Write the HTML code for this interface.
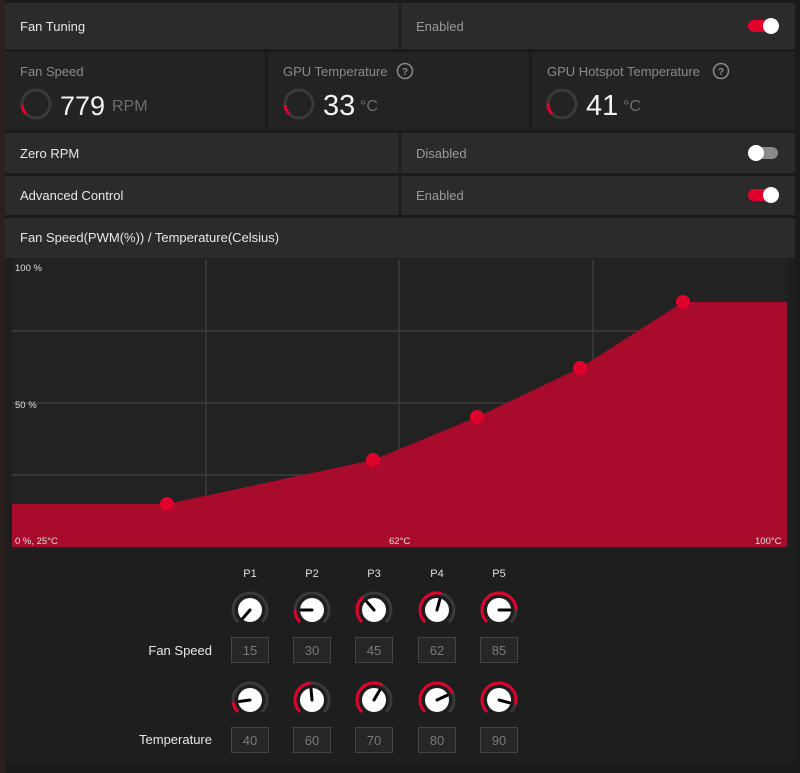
<!DOCTYPE html>
<html><head><meta charset="utf-8"><style>
html,body{margin:0;padding:0;background:#1c1a1a;}
svg{display:block;font-family:"Liberation Sans",sans-serif;}
</style></head><body>
<svg width="800" height="773" viewBox="0 0 800 773" xmlns="http://www.w3.org/2000/svg">
<rect x="0" y="0" width="800" height="773" fill="#1b1b1b"/>
<rect x="0" y="0" width="5" height="773" fill="#2a201e"/>
<rect x="5" y="3" width="394" height="46" fill="#2b2b2b"/>
<rect x="401" y="3" width="394" height="46" fill="#2b2b2b"/>
<text x="20" y="31" font-size="13" fill="#e8e8e8">Fan Tuning</text>
<text x="416" y="31" font-size="13" fill="#9a9a9a">Enabled</text>
<rect x="748" y="20" width="30" height="12" rx="6" fill="#e0002c"/><circle cx="771" cy="26" r="8" fill="#fff"/>
<rect x="5" y="52" width="260" height="78" fill="#232323"/>
<rect x="268" y="52" width="261" height="78" fill="#232323"/>
<rect x="532" y="52" width="263" height="78" fill="#232323"/>
<text x="20" y="76" font-size="13" fill="#8a8a8a">Fan Speed</text>
<text x="283" y="76" font-size="13" fill="#8a8a8a">GPU Temperature</text>
<text x="547" y="76" font-size="13" fill="#8a8a8a">GPU Hotspot Temperature</text>
<g fill="none" stroke="#8a8a8a" stroke-width="1.5"><circle cx="405" cy="71" r="7.5"/><circle cx="721" cy="71" r="7.5"/><circle cx="98" cy="153" r="7.5"/><circle cx="145" cy="195" r="7.5"/></g>
<g font-size="10" fill="#8a8a8a" text-anchor="middle" font-weight="bold"><text x="405" y="75">?</text><text x="721" y="75">?</text><text x="98" y="157">?</text><text x="145" y="199">?</text></g>
<g fill="none" stroke-width="3">
<circle cx="36" cy="104" r="14" stroke="#3a3a3a"/>
<circle cx="36" cy="104" r="14" stroke="#e0002c" stroke-dasharray="10 100" transform="rotate(135 36 104)"/>
<circle cx="299" cy="104" r="14" stroke="#3a3a3a"/>
<circle cx="299" cy="104" r="14" stroke="#e0002c" stroke-dasharray="10 100" transform="rotate(135 299 104)"/>
<circle cx="562" cy="104" r="14" stroke="#3a3a3a"/>
<circle cx="562" cy="104" r="14" stroke="#e0002c" stroke-dasharray="12 100" transform="rotate(135 562 104)"/>
</g>
<text x="60" y="115" font-size="27" fill="#f2f2f2">779</text><text x="112" y="111" font-size="16" fill="#6e6e6e">RPM</text>
<text x="323" y="115" font-size="29" fill="#f2f2f2">33</text><text x="360" y="111" font-size="16" fill="#6e6e6e">°C</text>
<text x="586" y="115" font-size="29" fill="#f2f2f2">41</text><text x="623" y="111" font-size="16" fill="#6e6e6e">°C</text>
<rect x="5" y="133" width="394" height="40" fill="#2b2b2b"/><rect x="401" y="133" width="394" height="40" fill="#2b2b2b"/>
<rect x="5" y="176" width="394" height="39" fill="#2b2b2b"/><rect x="401" y="176" width="394" height="39" fill="#2b2b2b"/>
<text x="20" y="158" font-size="13" fill="#e8e8e8">Zero RPM</text>
<text x="416" y="158" font-size="13" fill="#9a9a9a">Disabled</text>
<rect x="748" y="147" width="30" height="12" rx="6" fill="#8a8a8a"/><circle cx="756" cy="153" r="8" fill="#fff"/>
<text x="20" y="200" font-size="13" fill="#e8e8e8">Advanced Control</text>
<text x="416" y="200" font-size="13" fill="#9a9a9a">Enabled</text>
<rect x="748" y="189" width="30" height="12" rx="6" fill="#e0002c"/><circle cx="771" cy="195" r="8" fill="#fff"/>
<rect x="5" y="218" width="790" height="40" fill="#2b2b2b"/>
<text x="20" y="242" font-size="13" fill="#e8e8e8">Fan Speed(PWM(%)) / Temperature(Celsius)</text>
<rect x="5" y="258" width="790" height="292" fill="#1e1e1e"/>
<rect x="12" y="259" width="775" height="288" fill="#222"/>
<g stroke="#3c3c3c" stroke-width="1.5">
<line x1="206" y1="259" x2="206" y2="547"/><line x1="399" y1="259" x2="399" y2="547"/><line x1="593" y1="259" x2="593" y2="547"/>
<line x1="12" y1="331" x2="787" y2="331"/><line x1="12" y1="403" x2="787" y2="403"/><line x1="12" y1="475" x2="787" y2="475"/>
</g>
<polygon points="12,504 167,504 373,460 477,417 580,368 683,302 787,302 787,547 12,547" fill="#ae0a2c" fill-opacity="0.96"/>
<g fill="#e0002c"><circle cx="167" cy="504" r="7"/><circle cx="373" cy="460" r="7"/><circle cx="477" cy="417" r="7"/><circle cx="580" cy="368" r="7"/><circle cx="683" cy="302" r="7"/></g>
<g font-size="9.5" fill="#e0e0e0"><text x="15" y="271">100 %</text><text x="15" y="408">50 %</text><text x="15" y="544">0 %, 25°C</text><text x="389" y="544">62°C</text><text x="755" y="544">100°C</text></g>
<rect x="5" y="550" width="790" height="213" fill="#1e1e1e"/>
<g font-size="11" fill="#e0e0e0" text-anchor="middle"><text x="250" y="577">P1</text><text x="312" y="577">P2</text><text x="374" y="577">P3</text><text x="437" y="577">P4</text><text x="499" y="577">P5</text></g>
<g font-size="13" fill="#e8e8e8" text-anchor="end"><text x="212" y="655">Fan Speed</text><text x="212" y="744">Temperature</text></g>
<g fill="none" stroke-width="3">
<circle cx="250" cy="610" r="17" stroke="#3a3a3a" stroke-dasharray="80 200" transform="rotate(135 250 610)"/>
<circle cx="312" cy="610" r="17" stroke="#3a3a3a" stroke-dasharray="80 200" transform="rotate(135 312 610)"/>
<circle cx="312" cy="610" r="17" stroke="#e0002c" stroke-dasharray="13.4 200" transform="rotate(135 312 610)"/>
<circle cx="374" cy="610" r="17" stroke="#3a3a3a" stroke-dasharray="80 200" transform="rotate(135 374 610)"/>
<circle cx="374" cy="610" r="17" stroke="#e0002c" stroke-dasharray="27.9 200" transform="rotate(135 374 610)"/>
<circle cx="437" cy="610" r="17" stroke="#3a3a3a" stroke-dasharray="80 200" transform="rotate(135 437 610)"/>
<circle cx="437" cy="610" r="17" stroke="#e0002c" stroke-dasharray="44.5 200" transform="rotate(135 437 610)"/>
<circle cx="499" cy="610" r="17" stroke="#3a3a3a" stroke-dasharray="80 200" transform="rotate(135 499 610)"/>
<circle cx="499" cy="610" r="17" stroke="#e0002c" stroke-dasharray="66.7 200" transform="rotate(135 499 610)"/>
<circle cx="250" cy="700" r="17" stroke="#3a3a3a" stroke-dasharray="80 200" transform="rotate(135 250 700)"/>
<circle cx="250" cy="700" r="17" stroke="#e0002c" stroke-dasharray="11 200" transform="rotate(135 250 700)"/>
<circle cx="312" cy="700" r="17" stroke="#3a3a3a" stroke-dasharray="80 200" transform="rotate(135 312 700)"/>
<circle cx="312" cy="700" r="17" stroke="#e0002c" stroke-dasharray="38.6 200" transform="rotate(135 312 700)"/>
<circle cx="374" cy="700" r="17" stroke="#3a3a3a" stroke-dasharray="80 200" transform="rotate(135 374 700)"/>
<circle cx="374" cy="700" r="17" stroke="#e0002c" stroke-dasharray="48.9 200" transform="rotate(135 374 700)"/>
<circle cx="437" cy="700" r="17" stroke="#3a3a3a" stroke-dasharray="80 200" transform="rotate(135 437 700)"/>
<circle cx="437" cy="700" r="17" stroke="#e0002c" stroke-dasharray="59.3 200" transform="rotate(135 437 700)"/>
<circle cx="499" cy="700" r="17" stroke="#3a3a3a" stroke-dasharray="80 200" transform="rotate(135 499 700)"/>
<circle cx="499" cy="700" r="17" stroke="#e0002c" stroke-dasharray="71.2 200" transform="rotate(135 499 700)"/>
</g>
<g fill="#fff">
<circle cx="250" cy="610" r="12"/><circle cx="312" cy="610" r="12"/><circle cx="374" cy="610" r="12"/><circle cx="437" cy="610" r="12"/><circle cx="499" cy="610" r="12"/>
<circle cx="250" cy="700" r="12"/><circle cx="312" cy="700" r="12"/><circle cx="374" cy="700" r="12"/><circle cx="437" cy="700" r="12"/><circle cx="499" cy="700" r="12"/>
</g>
<g stroke="#000" stroke-width="3" stroke-linecap="round">
<line x1="250" y1="610" x2="250" y2="599" transform="rotate(221 250 610)"/>
<line x1="312" y1="610" x2="312" y2="599" transform="rotate(270 312 610)"/>
<line x1="374" y1="610" x2="374" y2="599" transform="rotate(319 374 610)"/>
<line x1="437" y1="610" x2="437" y2="599" transform="rotate(15 437 610)"/>
<line x1="499" y1="610" x2="499" y2="599" transform="rotate(90 499 610)"/>
<line x1="250" y1="700" x2="250" y2="689" transform="rotate(262 250 700)"/>
<line x1="312" y1="700" x2="312" y2="689" transform="rotate(355 312 700)"/>
<line x1="374" y1="700" x2="374" y2="689" transform="rotate(30 374 700)"/>
<line x1="437" y1="700" x2="437" y2="689" transform="rotate(65 437 700)"/>
<line x1="499" y1="700" x2="499" y2="689" transform="rotate(105 499 700)"/>
</g>
<g fill="#262626" stroke="#444" stroke-width="1">
<rect x="231.5" y="637.5" width="37" height="25"/><rect x="293.5" y="637.5" width="37" height="25"/><rect x="355.5" y="637.5" width="37" height="25"/><rect x="418.5" y="637.5" width="37" height="25"/><rect x="480.5" y="637.5" width="37" height="25"/>
<rect x="231.5" y="727.5" width="37" height="25"/><rect x="293.5" y="727.5" width="37" height="25"/><rect x="355.5" y="727.5" width="37" height="25"/><rect x="418.5" y="727.5" width="37" height="25"/><rect x="480.5" y="727.5" width="37" height="25"/>
</g>
<g font-size="13" fill="#7a7a7a" text-anchor="middle">
<text x="250" y="655">15</text><text x="312" y="655">30</text><text x="374" y="655">45</text><text x="437" y="655">62</text><text x="499" y="655">85</text>
<text x="250" y="745">40</text><text x="312" y="745">60</text><text x="374" y="745">70</text><text x="437" y="745">80</text><text x="499" y="745">90</text>
</g>
</svg>
</body></html>
